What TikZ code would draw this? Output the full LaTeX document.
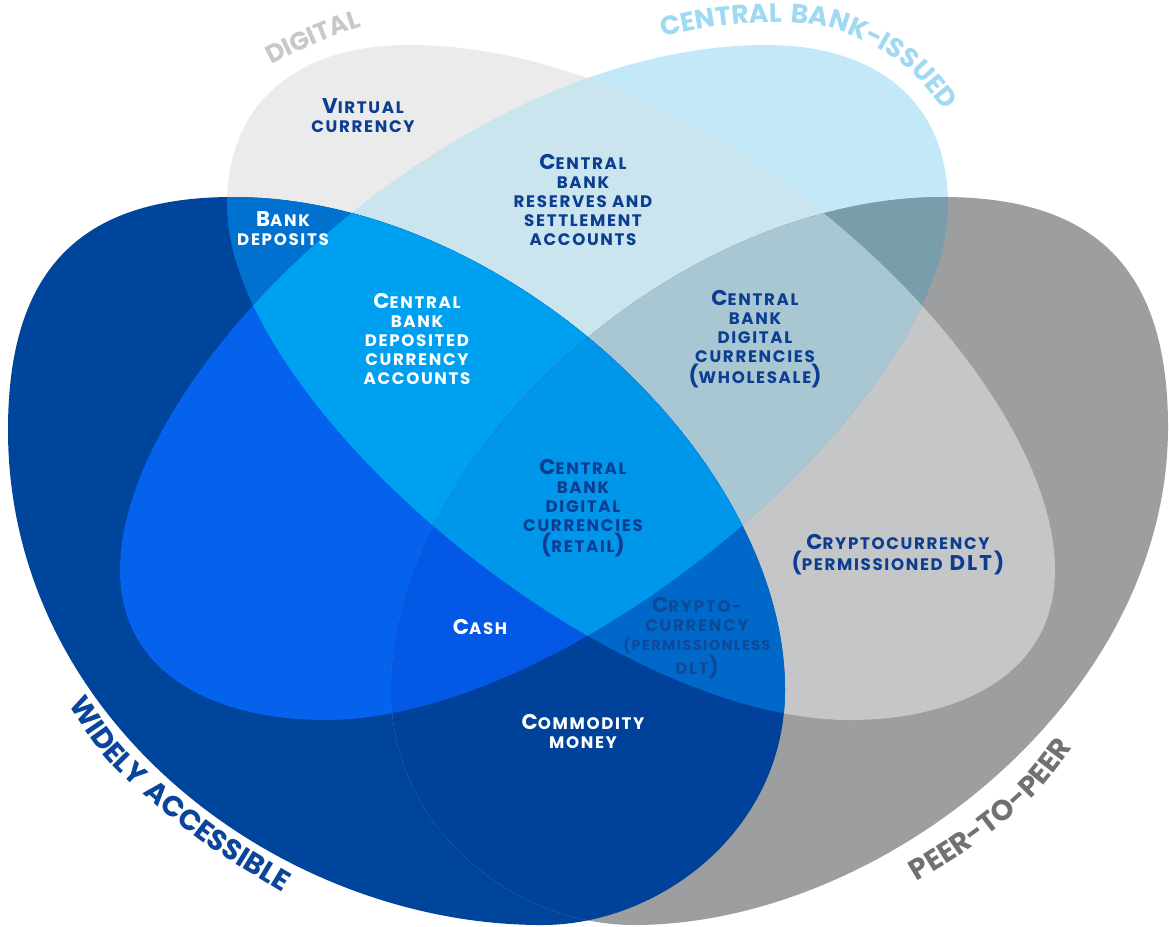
\documentclass[tikz,border=0pt]{standalone}
\usepackage{fontspec}
\setmainfont{Poppins}[LetterSpace=10]
\usetikzlibrary{decorations.text}

\definecolor{digOnly}{HTML}{EBEBEB}
\definecolor{cbOnly}{HTML}{C3E8F7}
\definecolor{digCb}{HTML}{CAE5EE}
\definecolor{wideOnly}{HTML}{00459C}
\definecolor{wideDig}{HTML}{0071CE}
\definecolor{wideCb}{HTML}{0462EC}
\definecolor{wideCbDig}{HTML}{00A0F0}
\definecolor{peerOnly}{HTML}{9D9EA0}
\definecolor{peerDig}{HTML}{C5C6C8}
\definecolor{peerCb}{HTML}{789DAB}
\definecolor{peerCbDig}{HTML}{A8C7D2}
\definecolor{peerWide}{HTML}{00419A}
\definecolor{peerWideDig}{HTML}{0068C9}
\definecolor{peerWideCb}{HTML}{0359E5}
\definecolor{allFour}{HTML}{0096E9}
\definecolor{navyText}{HTML}{0B3D91}
\definecolor{dimText}{HTML}{0E4A98}
\definecolor{digTitle}{HTML}{C8C8C8}
\definecolor{cbTitle}{HTML}{9FDAF2}
\definecolor{wideTitle}{HTML}{0B459B}
\definecolor{peerTitle}{HTML}{707173}

\newcommand{\sm}[1]{{\fontsize{12.5}{14.25}\selectfont\MakeUppercase{#1}}}
\newcommand{\titlefont}{\fontsize{19}{19}\selectfont\bfseries}
\newcommand{\widefont}{\fontsize{21.5}{21.5}\selectfont\bfseries}

\def\shapeD{(409,45) .. controls (715,45) and (1055,370) .. (1055,570) .. controls (1055,680) and (950,720) .. (850,720) .. controls (600,720) and (227,400) .. (227,205) .. controls (227,100) and (300,45) .. (409,45) -- cycle}
\def\shapeC{(766,45) .. controls (460,45) and (120,370) .. (120,570) .. controls (120,680) and (225,720) .. (325,720) .. controls (575,720) and (948,400) .. (948,205) .. controls (948,100) and (875,45) .. (766,45) -- cycle}
\def\shapeW{(233,197) .. controls (500,197) and (785,455) .. (785,690) .. controls (785,830) and (660,925) .. (542,925) .. controls (280,925) and (8,720) .. (8,430) .. controls (8,270) and (80,197) .. (233,197) -- cycle}
\def\shapeP{(943,197) .. controls (676,197) and (391,455) .. (391,690) .. controls (391,830) and (516,925) .. (634,925) .. controls (880,925) and (1168,700) .. (1168,427) .. controls (1168,270) and (1096,197) .. (943,197) -- cycle}

\tikzstyle{navytext} = [font=\fontsize{16}{14.25}\selectfont\bfseries, align=center, inner sep=0pt, text=navyText]
\tikzstyle{inwhite} = [navytext, text=white]
\tikzstyle{dimtext} = [navytext, text=dimText]
\tikzstyle{setname} = [decorate, decoration={text along path, text align=center}]

\begin{document}
\begin{tikzpicture}[x=0.75pt, y=-0.75pt]
	\useasboundingbox (0,0) rectangle (1169,926);
	\fill[white] (0,0) rectangle (1169,926);

	\fill[digOnly] \shapeD;
	\fill[cbOnly] \shapeC;
	\begin{scope}
		\clip \shapeD;
		\fill[digCb] \shapeC;
	\end{scope}
	\fill[wideOnly] \shapeW;
	\begin{scope}
		\clip \shapeW;
		\fill[wideDig] \shapeD;
		\fill[wideCb] \shapeC;
		\clip \shapeC;
		\fill[wideCbDig] \shapeD;
	\end{scope}
	\fill[peerOnly] \shapeP;
	\begin{scope}
		\clip \shapeP;
		\fill[peerDig] \shapeD;
		\fill[peerCb] \shapeC;
		\begin{scope}
			\clip \shapeC;
			\fill[peerCbDig] \shapeD;
		\end{scope}
		\fill[peerWide] \shapeW;
		\clip \shapeW;
		\fill[peerWideDig] \shapeD;
		\fill[peerWideCb] \shapeC;
		\clip \shapeC;
		\fill[allFour] \shapeD;
	\end{scope}

	\path[setname, decoration={text={|\titlefont|DIGITAL}, text color=digTitle}] (250,77) .. controls (290,53) and (340,31) .. (385,20);
	\path[setname, decoration={text={|\fontsize{20}{20}\selectfont\bfseries|CENTRAL BANK-ISSUED}, text color=cbTitle}] plot[smooth] coordinates {(631,43) (660,37) (720,26) (784,22) (830,28) (870,44) (910,70) (946,112) (964,136)};
	\path[setname, decoration={text={|\widefont|WIDELY ACCESSIBLE}, text color=wideTitle}] plot[smooth] coordinates {(49,676) (66,701) (105,757) (152,802) (215,851) (286,895) (311,911)};
	\path[setname, decoration={text={|\widefont|PEER-TO-PEER}, text color=peerTitle}] plot[smooth] coordinates {(887,900) (913,884) (960,855) (1003,823) (1042,787) (1076,743) (1094,719)};

	\node[navytext] (virtual) at (363,116) {V\sm{irtual}\\\sm{currency}};
	\node[inwhite] (deposits) at (283,229) {B\sm{ank}\\\sm{deposits}};
	\node[navytext] (reserves) at (583,200) {C\sm{entral}\\\sm{bank}\\\sm{reserves and}\\\sm{settlement}\\\sm{accounts}};
	\node[inwhite] (deposited) at (417,339) {C\sm{entral}\\\sm{bank}\\\sm{deposited}\\\sm{currency}\\\sm{accounts}};
	\node[navytext] (wholesale) at (755,339) {C\sm{entral}\\\sm{bank}\\\sm{digital}\\\sm{currencies}\\(\sm{wholesale})};
	\node[navytext] (retail) at (583,508) {C\sm{entral}\\\sm{bank}\\\sm{digital}\\\sm{currencies}\\(\sm{retail})};
	\node[navytext] (permissioned) at (898,555) {C\sm{ryptocurrency}\\(\sm{permissioned} DLT)};
	\node[dimtext] (permissionless) at (697,638) {C\sm{rypto-}\\\sm{currency}\\{\fontsize{10.8}{14.25}\selectfont (PERMISSIONLESS}\\\sm{dlt})};
	\node[inwhite] (cash) at (480,627) {C\sm{ash}};
	\node[inwhite] (commodity) at (583,731) {C\sm{ommodity}\\\sm{money}};
\end{tikzpicture}
\end{document}
